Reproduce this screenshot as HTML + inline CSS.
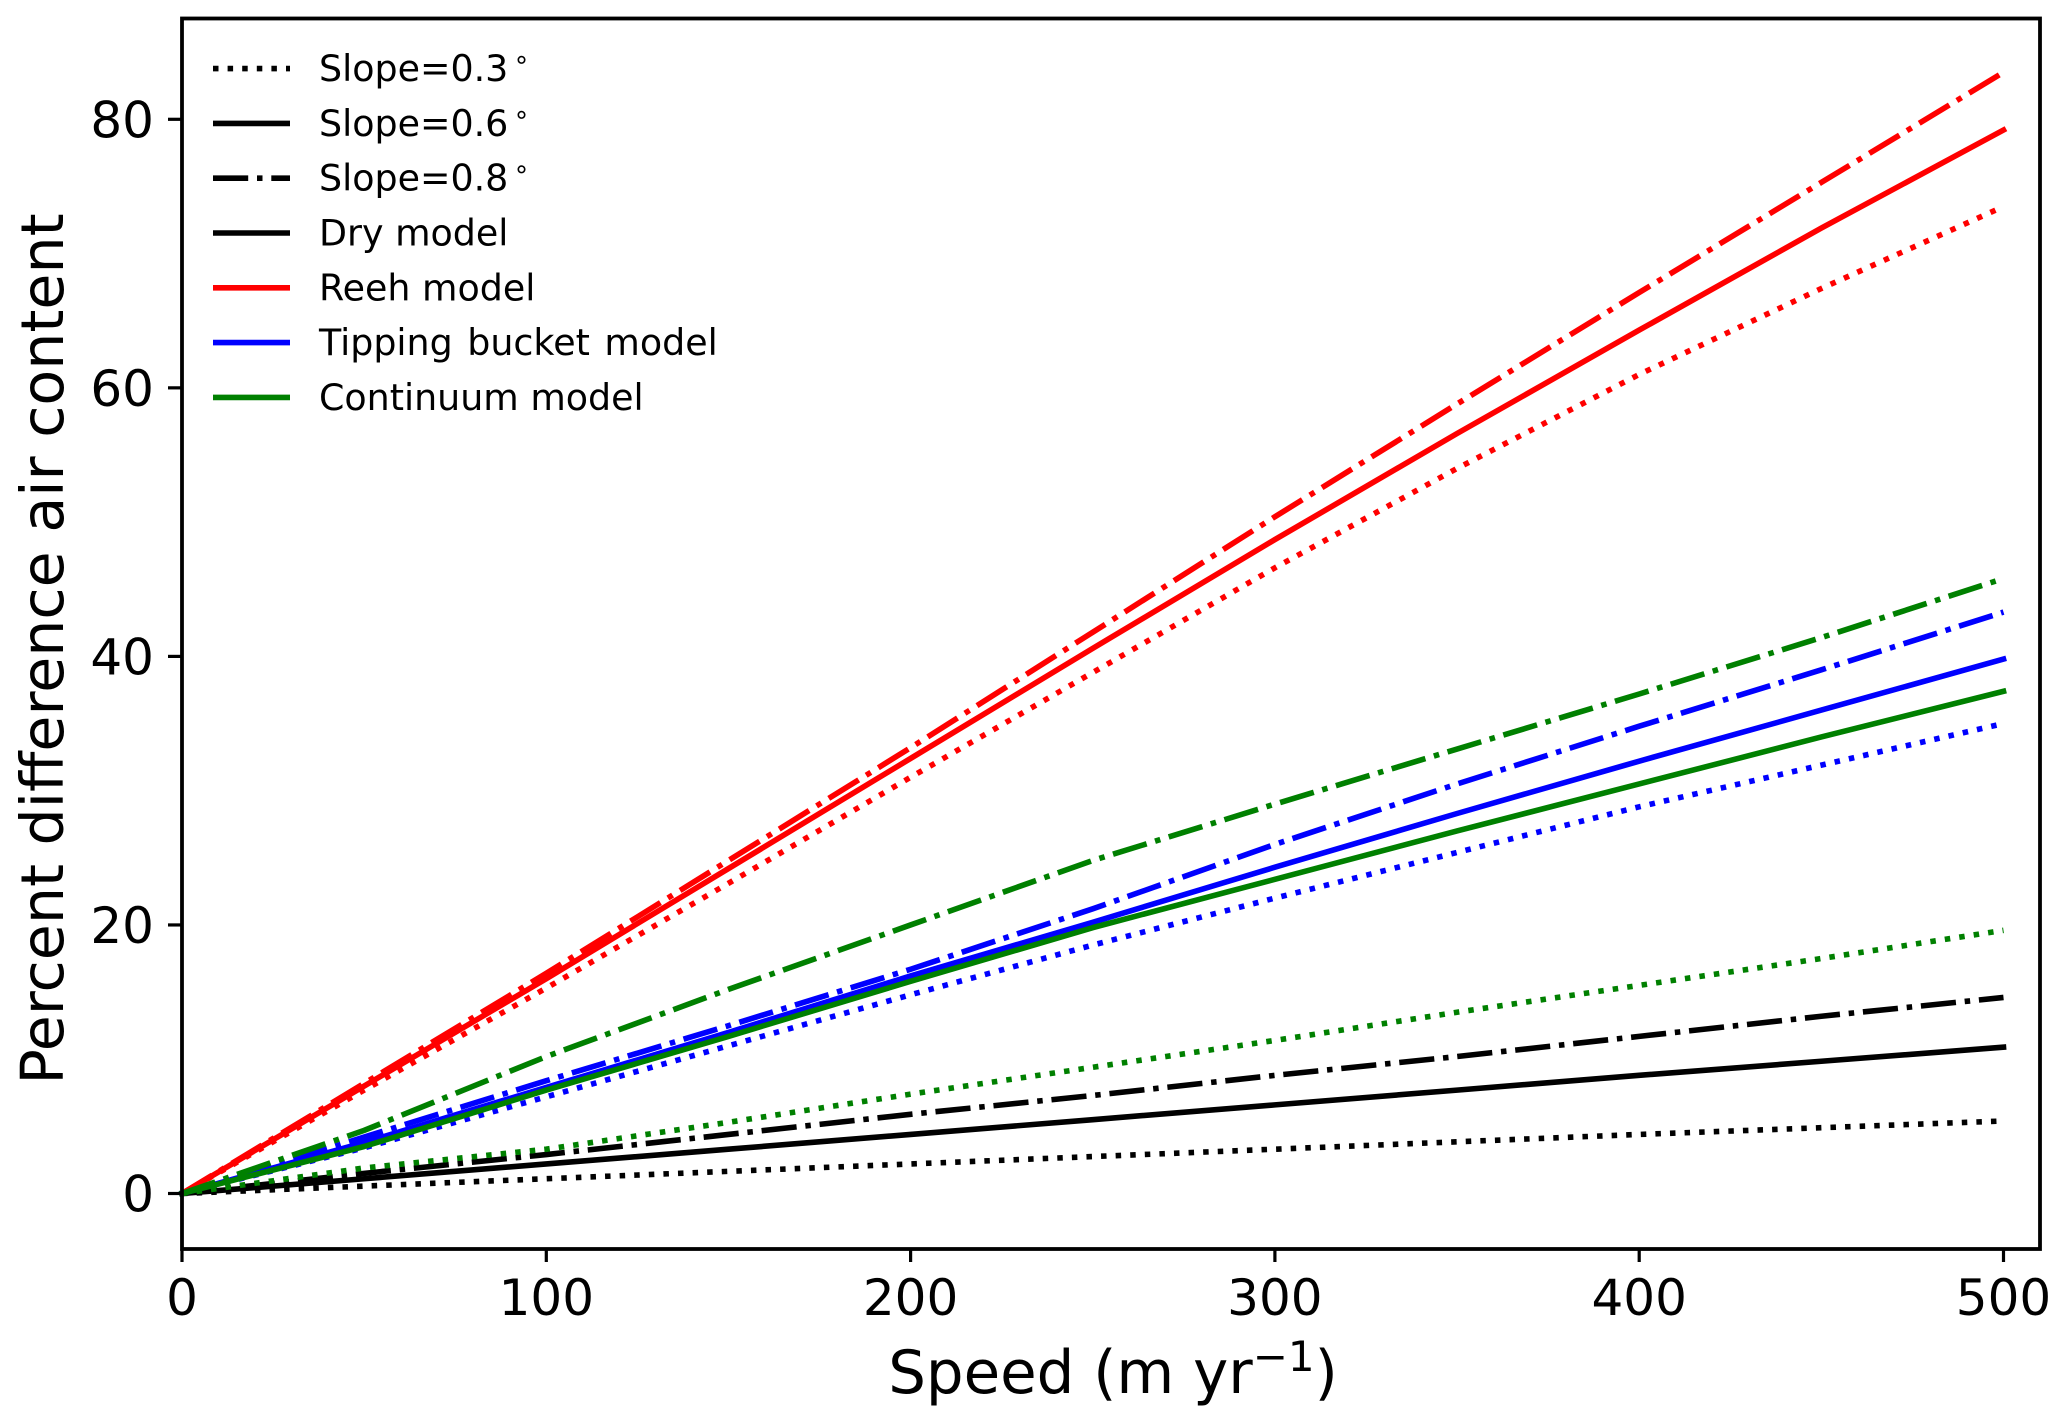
<!DOCTYPE html>
<html>
<head>
<meta charset="utf-8">
<title>Percent difference air content vs speed</title>
<style>
html,body{margin:0;padding:0;background:#fff;width:2067px;height:1423px;overflow:hidden}
svg{display:block;font-family:"DejaVu Sans","Liberation Sans",sans-serif}
</style>
</head>
<body>
<svg id="chart" xmlns="http://www.w3.org/2000/svg" width="2067" height="1423" viewBox="0 0 2067 1423">
<rect x="0" y="0" width="2067" height="1423" fill="#fff"/>
<g id="series"></g>
<rect x="182" y="18.5" width="1858" height="1230.5" fill="none" stroke="#000" stroke-width="3.8"/>
<g id="xticks"></g>
<g id="yticks"></g>
<text x="1113" y="1393" font-size="59.4" text-anchor="middle" fill="#000">Speed (m yr<tspan font-size="42" dy="-22">−1</tspan><tspan dy="22">)</tspan></text>
<text transform="translate(63,649) rotate(-90)" font-size="58.6" text-anchor="middle" fill="#000">Percent difference air content</text>
<g id="legend"></g>
</svg>
<script>
const speeds = [0, 50, 100, 150, 200, 250, 300, 350, 400, 450, 500];
const blackDotted = [0, 0.55, 1.1, 1.65, 2.2, 2.75, 3.3, 3.85, 4.4, 4.9, 5.4];
const blackSolid = [0, 1.1, 2.2, 3.3, 4.4, 5.5, 6.6, 7.7, 8.8, 9.85, 10.9];
const blackDashDot = [0, 1.5, 2.9, 4.4, 5.9, 7.3, 8.8, 10.2, 11.7, 13.2, 14.6];
const redDotted = [0, 7.7, 15.3, 23.1, 31, 38.8, 46.6, 54, 61, 67.4, 73.5];
const redSolid = [0, 8, 16, 24.2, 32.4, 40.6, 48.7, 56.6, 64.3, 71.9, 79.2];
const redDashDot = [0, 8.2, 16.4, 24.8, 33.2, 41.8, 50.4, 58.8, 67.1, 75.3, 83.5];
const blueDotted = [0, 3.4, 7.2, 11, 14.8, 18.5, 22, 25.4, 28.8, 31.9, 35];
const blueSolid = [0, 3.8, 7.9, 12, 16.2, 20.2, 24.3, 28.3, 32.2, 36, 39.8];
const blueDashDot = [0, 4.2, 8.4, 12.5, 16.7, 21.2, 26, 30.5, 34.8, 39, 43.3];
const greenDotted = [0, 1.9, 3.3, 5.3, 7.4, 9.4, 11.4, 13.5, 15.5, 17.5, 19.6];
const greenSolid = [0, 3.5, 7.7, 11.7, 15.8, 19.8, 23.4, 27, 30.5, 34, 37.4];
const greenDashDot = [0, 4.7, 10.2, 15.2, 20, 24.8, 29, 33.1, 37.2, 41.4, 45.8];
const xTickValues = [0, 100, 200, 300, 400, 500];
const yTickValues = [0, 20, 40, 60, 80];
const legendLabels = ["Slope=0.3", "Slope=0.6", "Slope=0.8", "Dry model", "Reeh model", "Tipping bucket model", "Continuum model"];

const NS = "http://www.w3.org/2000/svg";
const DOT = "5.5 9.1";
const DASHDOT = "35.2 8.8 5.5 8.8";
const xScale = v => 182 + v * (2003.5 - 182) / 500;
const yScale = v => 1193.5 - v * (1193.5 - 119.3) / 80;

function make(tag, attrs, parent) {
  const el = document.createElementNS(NS, tag);
  for (const k in attrs) el.setAttribute(k, attrs[k]);
  parent.appendChild(el);
  return el;
}

const seriesGroup = document.getElementById("series");
function drawSeries(name, values, color, dash) {
  const d = values.map((v, i) => (i ? "L" : "M") + xScale(speeds[i]).toFixed(2) + " " + yScale(v).toFixed(2)).join(" ");
  const attrs = { d: d, fill: "none", stroke: color, "stroke-width": 5.6, "stroke-linejoin": "round" };
  if (dash) attrs["stroke-dasharray"] = dash;
  else attrs["stroke-linecap"] = "square";
  const line = make("path", attrs, seriesGroup);
  
  
}
drawSeries("black-slope-0-3-line", blackDotted, "#000", DOT);
drawSeries("black-slope-0-6-line", blackSolid, "#000", null);
drawSeries("black-slope-0-8-line", blackDashDot, "#000", DASHDOT);
drawSeries("reeh-slope-0-3-line", redDotted, "#f00", DOT);
drawSeries("reeh-slope-0-6-line", redSolid, "#f00", null);
drawSeries("reeh-slope-0-8-line", redDashDot, "#f00", DASHDOT);
drawSeries("tipping-bucket-slope-0-3-line", blueDotted, "#00f", DOT);
drawSeries("tipping-bucket-slope-0-6-line", blueSolid, "#00f", null);
drawSeries("tipping-bucket-slope-0-8-line", blueDashDot, "#00f", DASHDOT);
drawSeries("continuum-slope-0-3-line", greenDotted, "#008000", DOT);
drawSeries("continuum-slope-0-6-line", greenSolid, "#008000", null);
drawSeries("continuum-slope-0-8-line", greenDashDot, "#008000", DASHDOT);

const xTickGroup = document.getElementById("xticks");
xTickValues.forEach(v => {
  const x = xScale(v);
  const tick = make("line", { x1: x, x2: x, y1: 1249, y2: 1262, stroke: "#000", "stroke-width": 3.2 }, xTickGroup);
  
  
  const label = make("text", { x: x, y: 1315, "font-size": 50, "text-anchor": "middle", fill: "#000" }, xTickGroup);
  
  
  label.textContent = v;
});

const yTickGroup = document.getElementById("yticks");
yTickValues.forEach(v => {
  const y = yScale(v);
  const tick = make("line", { x1: 168, x2: 182, y1: y, y2: y, stroke: "#000", "stroke-width": 3.2 }, yTickGroup);
  
  
  const label = make("text", { x: 154, y: y + 18, "font-size": 50, "text-anchor": "end", fill: "#000" }, yTickGroup);
  
  
  label.textContent = v;
});

const legendGroup = document.getElementById("legend");
const legendColors = ["#000", "#000", "#000", "#000", "#f00", "#00f", "#008000"];
const legendDashes = [DOT, null, DASHDOT, null, null, null, null];
legendLabels.forEach((text, i) => {
  const y = 68.6 + i * 54.8;
  const attrs = { x1: 213, x2: 290, y1: y, y2: y, stroke: legendColors[i], "stroke-width": 5.6 };
  if (legendDashes[i]) attrs["stroke-dasharray"] = legendDashes[i];
  const sample = make("line", attrs, legendGroup);
  
  
  const label = make("text", { x: 319, y: y + 12.5, "font-size": 36.4, fill: "#000" }, legendGroup);
  
  
  if (i === 5) label.setAttribute("word-spacing", "3");
  label.textContent = text;
  if (i < 3) {
    const ring = make("tspan", { "font-size": 26, dx: 5, dy: -13 }, label);
    
    
    ring.textContent = "∘";
  }
});
</script>
</body>
</html>
